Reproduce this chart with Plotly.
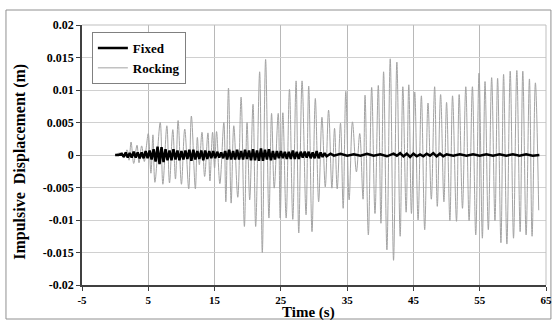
import plotly.graph_objects as go

# Rocking response: successive peaks/troughs
rocking_t = [0.0, 0.8, 1.3, 1.8, 2.1, 2.4, 2.8, 3.3, 3.6, 4.0, 4.4, 4.7,
             5.0, 5.4, 5.7, 6.0, 6.8, 7.2, 7.8, 8.2, 8.7, 9.1, 9.5, 10.0,
             10.5, 11.1, 11.5, 12.1, 12.4, 12.7, 13.1, 13.5, 14.0, 14.3, 14.7, 15.0,
             15.3, 15.8, 16.4, 16.7, 17.1, 17.5, 17.9, 18.5, 19.0, 19.5, 19.9, 20.3,
             20.8, 21.2, 21.8, 22.2, 22.7, 23.2, 23.6, 24.0, 24.6, 24.9, 25.3, 25.8,
             26.3, 26.8, 27.3, 27.7, 28.2, 28.8, 29.2, 29.7, 30.2, 30.7, 31.2, 31.7,
             32.2, 32.7, 33.1, 33.5, 34.0, 34.4, 34.8, 35.3, 35.8, 36.4, 36.9, 37.4,
             37.7, 38.2, 38.7, 39.2, 39.7, 40.1, 40.5, 41.0, 41.5, 42.0, 42.5, 43.0,
             43.4, 43.9, 44.3, 44.7, 45.2, 45.7, 46.2, 46.7, 47.2, 47.7, 48.2, 48.6,
             49.1, 49.6, 50.0, 50.5, 50.9, 51.5, 51.9, 52.4, 52.9, 53.4, 53.9, 54.4,
             54.9, 55.4, 55.8, 56.3, 56.8, 57.3, 57.7, 58.2, 58.6, 59.1, 59.6, 60.1,
             60.6, 61.1, 61.5, 62.0, 62.5, 62.9, 63.4, 63.9]
rocking_v = [0.0, 0.0003, -0.0004, 0.0008, -0.0008, 0.0020, -0.0013, 0.0015, -0.0012, 0.0014, -0.0010, 0.0012,
             0.0033, -0.0028, 0.0031, -0.0042, 0.0050, -0.0045, 0.0045, -0.0043, 0.0039, -0.0037, 0.0053, -0.0045,
             0.0040, -0.0052, 0.0060, -0.0052, 0.0027, -0.0015, 0.0035, -0.0033, 0.0034, -0.0040, 0.0035, -0.0020,
             0.0036, -0.0044, 0.0050, -0.0072, 0.0103, -0.0074, 0.0045, -0.0065, 0.0089, -0.0110, 0.0050, -0.0069,
             0.0078, -0.0110, 0.0128, -0.0150, 0.0147, -0.0097, 0.0064, -0.0051, 0.0064, -0.0097, 0.0065, -0.0097,
             0.0101, -0.0099, 0.0114, -0.0120, 0.0114, -0.0092, 0.0106, -0.0118, 0.0087, -0.0072, 0.0058, -0.0049,
             0.0069, -0.0051, 0.0041, -0.0052, 0.0049, -0.0082, 0.0098, -0.0069, 0.0051, -0.0026, 0.0033, -0.0068,
             0.0092, -0.0123, 0.0104, -0.0090, 0.0107, -0.0105, 0.0128, -0.0146, 0.0148, -0.0162, 0.0143, -0.0125,
             0.0105, -0.0088, 0.0108, -0.0090, 0.0097, -0.0100, 0.0091, -0.0115, 0.0080, -0.0068, 0.0105, -0.0079,
             0.0093, -0.0072, 0.0081, -0.0101, 0.0091, -0.0102, 0.0093, -0.0082, 0.0105, -0.0101, 0.0105, -0.0123,
             0.0126, -0.0128, 0.0113, -0.0115, 0.0119, -0.0101, 0.0118, -0.0135, 0.0124, -0.0137, 0.0129, -0.0128,
             0.0130, -0.0118, 0.0129, -0.0123, 0.0117, -0.0125, 0.0111, -0.0085]

# Fixed-base response: envelope of the dense black trace
fixed_t = [0.0, 0.5, 1.0, 1.3, 1.6, 1.9, 2.2, 2.5, 2.8, 3.1, 3.4, 3.7, 4.0, 4.3, 4.6, 4.9,
           5.2, 5.5, 5.8, 6.1, 6.4, 6.7, 7.0, 7.3, 7.6, 7.9, 8.2, 8.5, 8.8, 9.1, 9.4, 9.7,
           10.0, 10.3, 10.6, 10.9, 11.2, 11.5, 11.8, 12.1, 12.4, 12.7, 13.0, 13.3, 13.6, 13.9,
           14.2, 14.5, 14.8, 15.1, 15.4, 15.7, 16.0, 16.3, 16.6, 16.9, 17.2, 17.5, 17.8, 18.1,
           18.4, 18.7, 19.0, 19.3, 19.6, 19.9, 20.2, 20.5, 20.8, 21.1, 21.4, 21.7, 22.0, 22.3,
           22.6, 22.9, 23.2, 23.5, 23.8, 24.1, 24.4, 24.7, 25.0, 25.3, 25.6, 25.9, 26.2, 26.5,
           26.8, 27.1, 27.4, 27.7, 28.0, 28.3, 28.6, 28.9, 29.2, 29.5, 29.8, 30.1, 30.4, 30.7,
           31.0, 31.3, 31.6, 31.9, 32.5, 33.0, 34.0, 35.0, 36.0, 37.0, 38.0, 39.0, 40.0, 41.0,
           42.0, 42.5, 43.0, 43.5, 44.0, 44.5, 45.0, 45.5, 46.0, 46.5, 47.0, 47.5, 48.0, 48.5,
           49.0, 49.5, 50.0, 51.0, 52.0, 53.0, 54.0, 55.0, 56.0, 57.0, 58.0, 59.0, 60.0, 61.0,
           62.0, 63.0, 64.0]
fixed_v = [0.0, 0.0, 0.0002, -0.0003, 0.0004, -0.0004, 0.0003, -0.0004, 0.0005, -0.0004, 0.0004, -0.0005, 0.0004, -0.0005, 0.0006, -0.0005,
           0.0007, -0.0007, 0.0009, -0.0010, 0.0013, -0.0014, 0.0012, -0.0011, 0.0009, -0.0008, 0.0007, -0.0008, 0.0009, -0.0007, 0.0007, -0.0008,
           0.0006, -0.0007, 0.0007, -0.0006, 0.0008, -0.0009, 0.0008, -0.0007, 0.0006, -0.0006, 0.0007, -0.0008, 0.0007, -0.0006,
           0.0006, -0.0005, 0.0006, -0.0005, 0.0005, -0.0004, 0.0004, -0.0005, 0.0006, -0.0007, 0.0008, -0.0007, 0.0006, -0.0007,
           0.0008, -0.0007, 0.0006, -0.0007, 0.0008, -0.0006, 0.0007, -0.0008, 0.0009, -0.0008, 0.0007, -0.0009, 0.0010, -0.0009,
           0.0008, -0.0007, 0.0009, -0.0008, 0.0006, -0.0007, 0.0006, -0.0005, 0.0006, -0.0005, 0.0005, -0.0006, 0.0005, -0.0006,
           0.0007, -0.0006, 0.0005, -0.0006, 0.0005, -0.0004, 0.0005, -0.0004, 0.0005, -0.0005, 0.0004, -0.0005, 0.0006, -0.0005,
           0.0004, -0.0003, 0.0003, -0.0002, 0.0002, -0.0001, 0.0002, -0.0001, 0.0001, -0.0001, 0.0002, -0.0001, 0.0001, -0.0002,
           0.0002, -0.0001, 0.0003, -0.0002, 0.0002, -0.0003, 0.0002, -0.0002, 0.0001, -0.0002, 0.0002, -0.0001, 0.0003, -0.0002,
           0.0002, -0.0002, 0.0001, -0.0001, 0.0001, -0.0001, 0.0001, -0.0001, 0.0001, -0.0001, 0.0001, -0.0001, 0.0001, -0.0001,
           0.0001, -0.0001, 0.0]

x_ticks = [-5, 5, 15, 25, 35, 45, 55, 65]
x_ticktext = ["-5", "5", "15", "25", "35", "45", "55", "65"]
y_ticks = [0.02, 0.015, 0.01, 0.005, 0, -0.005, -0.01, -0.015, -0.02]
y_ticktext = ["0.02", "0.015", "0.01", "0.005", "0", "-0.005", "-0.01", "-0.015", "-0.02"]

FONT = "Liberation Serif"

fig = go.Figure()
fig.add_trace(go.Scatter(x=rocking_t, y=rocking_v, mode="lines", name="Rocking",
                         line=dict(color="#a3a3a3", width=1, shape="spline", smoothing=1.0),
                         legendrank=2))
fig.add_trace(go.Scatter(x=fixed_t, y=fixed_v, mode="lines", name="Fixed",
                         line=dict(color="#000000", width=2.5),
                         legendrank=1))

L, R, T, B = 82, 6, 25, 35
W, H = 558, 320
pw, ph = W - L - R, H - T - B

def px_x(p):
    return (p - L) / pw

def px_y(p):
    return (H - B - p) / ph

fig.update_layout(
    width=W, height=H,
    margin=dict(l=L, r=R, t=T, b=B),
    paper_bgcolor="white", plot_bgcolor="white",
    font=dict(family=FONT, color="black", size=11),
    showlegend=True,
    legend=dict(x=px_x(92), y=px_y(32), xanchor="left", yanchor="top",
                bgcolor="white", bordercolor="#808080", borderwidth=1,
                font=dict(family=FONT, size=13, color="black", weight="bold"),
                tracegroupgap=0, itemwidth=30),
    xaxis=dict(range=[-5, 65], tickvals=x_ticks, ticktext=x_ticktext,
               showgrid=True, gridcolor="#b8b8b8", gridwidth=1,
               showline=True, linecolor="#404040", linewidth=1.5,
               ticks="outside", ticklen=4, tickcolor="#404040",
               tickfont=dict(family=FONT, size=11, color="black", weight="bold"),
               ticklabeloverflow="allow", zeroline=False),
    yaxis=dict(range=[-0.02, 0.02], tickvals=y_ticks, ticktext=y_ticktext,
               showgrid=True, gridcolor="#d0d0d0", gridwidth=1,
               showline=True, linecolor="#404040", linewidth=1.5,
               ticks="outside", ticklen=4, tickcolor="#404040",
               tickfont=dict(family=FONT, size=12, color="black", weight="bold"),
               zeroline=False),
)

# axis titles placed as annotations
fig.add_annotation(text="Time (s)", xref="paper", yref="paper",
                   x=px_x(311), y=px_y(312), xanchor="center", yanchor="middle",
                   showarrow=False,
                   font=dict(family=FONT, size=15, color="black", weight="bold"))
fig.add_annotation(text="Impulsive\u00a0 Displacement (m)", xref="paper", yref="paper",
                   x=px_x(19), y=px_y(162), xanchor="center", yanchor="middle",
                   showarrow=False, textangle=-90,
                   font=dict(family=FONT, size=16, color="black", weight="bold"))

# top and right frame of the plot area as light lines
fig.add_shape(type="line", xref="paper", yref="paper", x0=0, x1=1, y0=1, y1=1,
              line=dict(color="#bfbfbf", width=1))
fig.add_shape(type="line", xref="paper", yref="paper", x0=1, x1=1, y0=0, y1=1,
              line=dict(color="#bfbfbf", width=1))
# outer chart border
fig.add_shape(type="rect", xref="paper", yref="paper",
              x0=px_x(5), x1=px_x(557), y0=px_y(319), y1=px_y(10),
              line=dict(color="#909090", width=1), fillcolor="rgba(0,0,0,0)", layer="below")

fig.write_html("out.html", config={"displayModeBar": False},
               post_script="document.body.style.margin='0';document.body.style.overflow='hidden';")
